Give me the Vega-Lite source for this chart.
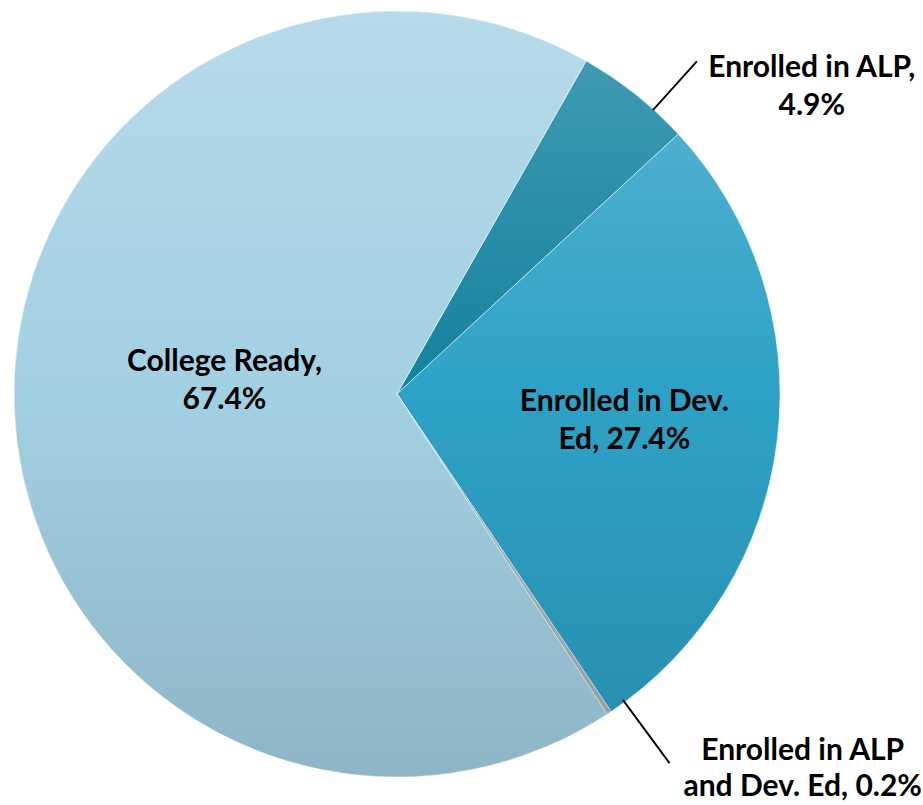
{
  "$schema": "https://vega.github.io/schema/vega-lite/v6.json",
  "autosize": "none",
  "width": 794,
  "height": 788,
  "padding": {"left": 0, "top": 0, "right": 129, "bottom": 17},
  "background": "white",
  "view": {"stroke": null},
  "data": {
    "values": [
      {"category": "Enrolled in ALP", "percent": 4.9, "label": ["Enrolled in ALP,", "4.9%"]},
      {"category": "Enrolled in Dev. Ed", "percent": 27.4, "label": ["Enrolled in Dev.", "Ed, 27.4%"]},
      {"category": "Enrolled in ALP and Dev. Ed", "percent": 0.2, "label": ["Enrolled in ALP", "and Dev. Ed, 0.2%"]},
      {"category": "College Ready", "percent": 67.4, "label": ["College Ready,", "67.4%"]}
    ]
  },
  "transform": [
    {"window": [{"op": "row_number", "as": "idx"}]},
    {"stack": "percent", "groupby": [], "sort": [{"field": "idx"}], "offset": "normalize", "as": ["t0", "t1"]}
  ],
  "layer": [
    {
      "mark": {"type": "arc", "radius": 383, "stroke": "white", "strokeOpacity": 0.5, "strokeWidth": 1},
      "encoding": {
        "theta": {"field": "t0", "type": "quantitative", "stack": null, "scale": {"domain": [0, 1], "range": [0.5166, 6.7998]}},
        "theta2": {"field": "t1"},
        "color": {
          "field": "category",
          "type": "nominal",
          "legend": null,
          "scale": {
            "domain": ["Enrolled in ALP", "Enrolled in Dev. Ed", "Enrolled in ALP and Dev. Ed", "College Ready"],
            "range": ["#12829f", "#2da2c6", "#a9b4b9", "#a2d0e3"]
          }
        }
      }
    },
    {
      "transform": [{"aggregate": [{"op": "sum", "field": "percent", "as": "total"}]}],
      "mark": {
        "type": "arc",
        "radius": 383,
        "theta": 0,
        "theta2": 6.2832,
        "fill": {
          "gradient": "linear",
          "x1": 0, "y1": 0, "x2": 0, "y2": 1,
          "stops": [
            {"offset": 0, "color": "rgba(255,255,255,0.22)"},
            {"offset": 0.5, "color": "rgba(255,255,255,0)"},
            {"offset": 0.5, "color": "rgba(0,0,0,0)"},
            {"offset": 1, "color": "rgba(0,0,0,0.13)"}
          ]
        }
      },
      "encoding": {}
    },
    {
      "transform": [{"filter": "datum.category === 'Enrolled in ALP'"}],
      "mark": {"type": "arc", "radius": 447, "radius2": 383, "stroke": "black", "strokeWidth": 1.6, "fillOpacity": 0},
      "encoding": {
        "theta": {"datum": 0.0345, "type": "quantitative"},
        "theta2": {"datum": 0.0346}
      }
    },
    {
      "transform": [{"filter": "datum.category === 'Enrolled in ALP and Dev. Ed'"}],
      "mark": {"type": "arc", "radius": 458, "radius2": 381, "stroke": "black", "strokeWidth": 1.6, "fillOpacity": 0},
      "encoding": {
        "theta": {"datum": 0.3165, "type": "quantitative"},
        "theta2": {"datum": 0.3166}
      }
    },
    {
      "transform": [{"filter": "datum.category === 'College Ready'"}],
      "mark": {"type": "text", "radius": 173, "dy": -19, "font": "Lato", "fontWeight": "bold", "fontSize": 30, "lineHeight": 38, "align": "center", "baseline": "middle", "color": "black"},
      "encoding": {"theta": {"datum": 0.6797, "type": "quantitative"}, "text": {"field": "label"}}
    },
    {
      "transform": [{"filter": "datum.category === 'Enrolled in Dev. Ed'"}],
      "mark": {"type": "text", "radius": 229, "dy": -19, "font": "Lato", "fontWeight": "bold", "fontSize": 30, "lineHeight": 38, "align": "center", "baseline": "middle", "color": "black"},
      "encoding": {"theta": {"datum": 0.1867, "type": "quantitative"}, "text": {"field": "label"}}
    },
    {
      "transform": [{"filter": "datum.category === 'Enrolled in ALP'"}],
      "mark": {"type": "text", "radius": 516, "dy": -19, "font": "Lato", "fontWeight": "bold", "fontSize": 30, "lineHeight": 38, "align": "center", "baseline": "middle", "color": "black"},
      "encoding": {"theta": {"datum": 0.0664, "type": "quantitative"}, "text": {"field": "label"}}
    },
    {
      "transform": [{"filter": "datum.category === 'Enrolled in ALP and Dev. Ed'"}],
      "mark": {"type": "text", "radius": 553, "dy": -19, "font": "Lato", "fontWeight": "bold", "fontSize": 30, "lineHeight": 36, "align": "center", "baseline": "middle", "color": "black"},
      "encoding": {"theta": {"datum": 0.2867, "type": "quantitative"}, "text": {"field": "label"}}
    }
  ]
}
